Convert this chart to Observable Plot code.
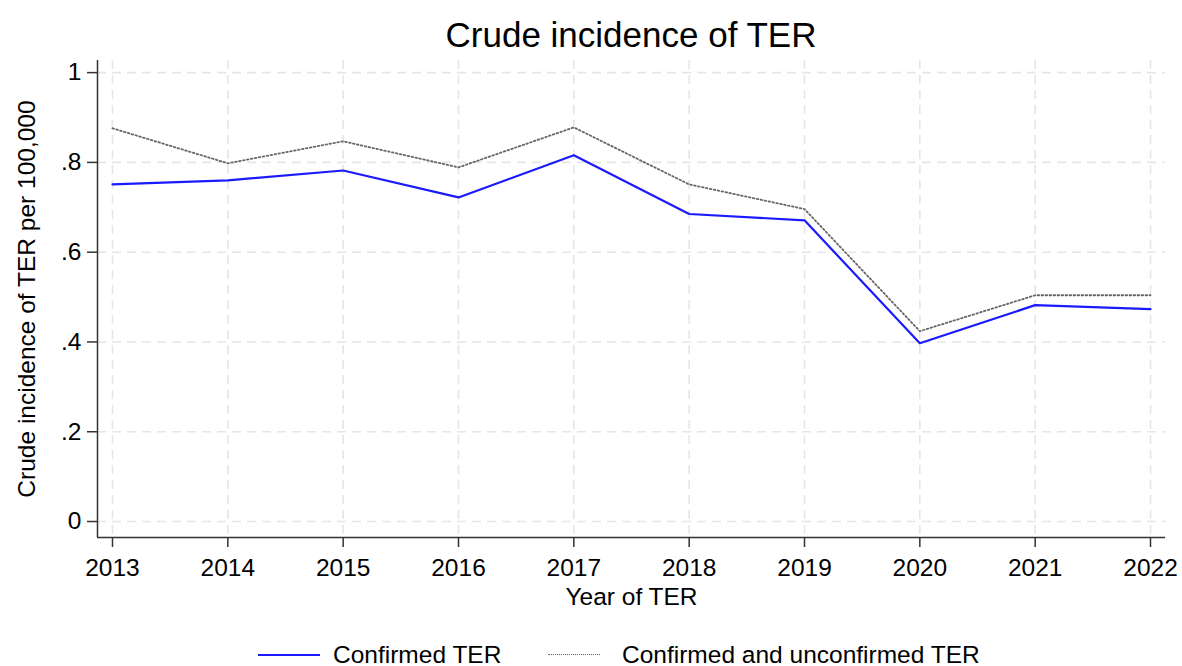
<!DOCTYPE html>
<html>
<head>
<meta charset="utf-8">
<script src="https://cdn.jsdelivr.net/npm/d3@7"></script>
<script src="https://cdn.jsdelivr.net/npm/@observablehq/plot@0.6"></script>
<style>
  body { margin: 0; background: #fff; font-family: "Liberation Sans", Arial, sans-serif; }
  #title { width: 1182px; box-sizing: border-box; padding-left: 80px; height: 56px; line-height: 70px; text-align: center; font-size: 35px; color: #000; white-space: nowrap; }
  #legend { position: relative; width: 1182px; height: 40px; font-size: 24.5px; color: #000; }
  .sw { position: absolute; top: 28px; }
  .lt { position: absolute; top: 15px; line-height: 28px; white-space: nowrap; }
</style>
</head>
<body>
<div id="title"></div>
<div id="chart"></div>
<div id="legend"></div>
<script>
const titleText = "Crude incidence of TER";
const xLabel = "Year of TER";
const yLabel = "Crude incidence of TER per 100,000";
const years = [2013, 2014, 2015, 2016, 2017, 2018, 2019, 2020, 2021, 2022];
const confirmed = [0.751, 0.760, 0.782, 0.722, 0.816, 0.685, 0.671, 0.397, 0.482, 0.473];
const confirmedAndUnconfirmed = [0.876, 0.798, 0.847, 0.789, 0.878, 0.751, 0.696, 0.424, 0.504, 0.504];
const yTicks = [0, 0.2, 0.4, 0.6, 0.8, 1];
const yTickLabels = ["0", ".2", ".4", ".6", ".8", "1"];
const seriesNames = ["Confirmed TER", "Confirmed and unconfirmed TER"];

document.getElementById("title").textContent = titleText;

const data = [];
years.forEach((yr, i) => {
  data.push({year: yr, value: confirmed[i], series: seriesNames[0]});
  data.push({year: yr, value: confirmedAndUnconfirmed[i], series: seriesNames[1]});
});

const xDomain = [2012.87, 2022.13];
const yDomain = [-0.0356, 1.027];
const gridColor = "#e6e6e6";
const axisColor = "#333";

const chart = Plot.plot({
  width: 1182,
  height: 570,
  marginLeft: 97,
  marginRight: 17,
  marginTop: 4,
  marginBottom: 89,
  style: {fontFamily: "Liberation Sans, Arial, sans-serif", background: "#fff"},
  x: {domain: xDomain},
  y: {domain: yDomain},
  marks: [
    Plot.gridY(yTicks, {stroke: gridColor, strokeOpacity: 1, strokeWidth: 1.6, strokeDasharray: "9,6"}),
    Plot.gridX(years, {stroke: gridColor, strokeOpacity: 1, strokeWidth: 1.6, strokeDasharray: "9,6"}),
    Plot.ruleX([xDomain[0]], {stroke: axisColor, strokeWidth: 1.5}),
    Plot.ruleY([yDomain[0]], {stroke: axisColor, strokeWidth: 1.5}),
    Plot.axisY(yTicks, {tickSize: 10, tickPadding: 6, fontSize: 24.5, stroke: axisColor, strokeWidth: 1.5, fill: "#000",
      tickFormat: (d) => yTickLabels[yTicks.indexOf(d)], label: null}),
    Plot.axisX(years, {tickSize: 10, tickPadding: 11, fontSize: 24.5, stroke: axisColor, strokeWidth: 1.5, fill: "#000",
      tickFormat: (d) => String(d), label: null}),
    Plot.text([xLabel], {frameAnchor: "bottom", dy: 67, fontSize: 24.5, fill: "#000"}),
    Plot.text([yLabel], {frameAnchor: "left", textAnchor: "middle", dx: -70, rotate: -90, fontSize: 24.5, fill: "#000"}),
    Plot.line(data.filter(d => d.series === seriesNames[1]), {x: "year", y: "value", stroke: "#666", strokeWidth: 1.8, strokeDasharray: "1.6,2.4"}),
    Plot.line(data.filter(d => d.series === seriesNames[0]), {x: "year", y: "value", stroke: "#1a1aff", strokeWidth: 2.2})
  ]
});
document.getElementById("chart").appendChild(chart);

const legend = document.getElementById("legend");
legend.innerHTML = `
  <div class="sw" style="left:258px;width:62px;border-top:2.2px solid #1a1aff;"></div>
  <div class="lt" style="left:333px;">${seriesNames[0]}</div>
  <div class="sw" style="left:548px;width:52px;border-top:1.6px dotted #666;"></div>
  <div class="lt" style="left:622px;">${seriesNames[1]}</div>`;
</script>
</body>
</html>
